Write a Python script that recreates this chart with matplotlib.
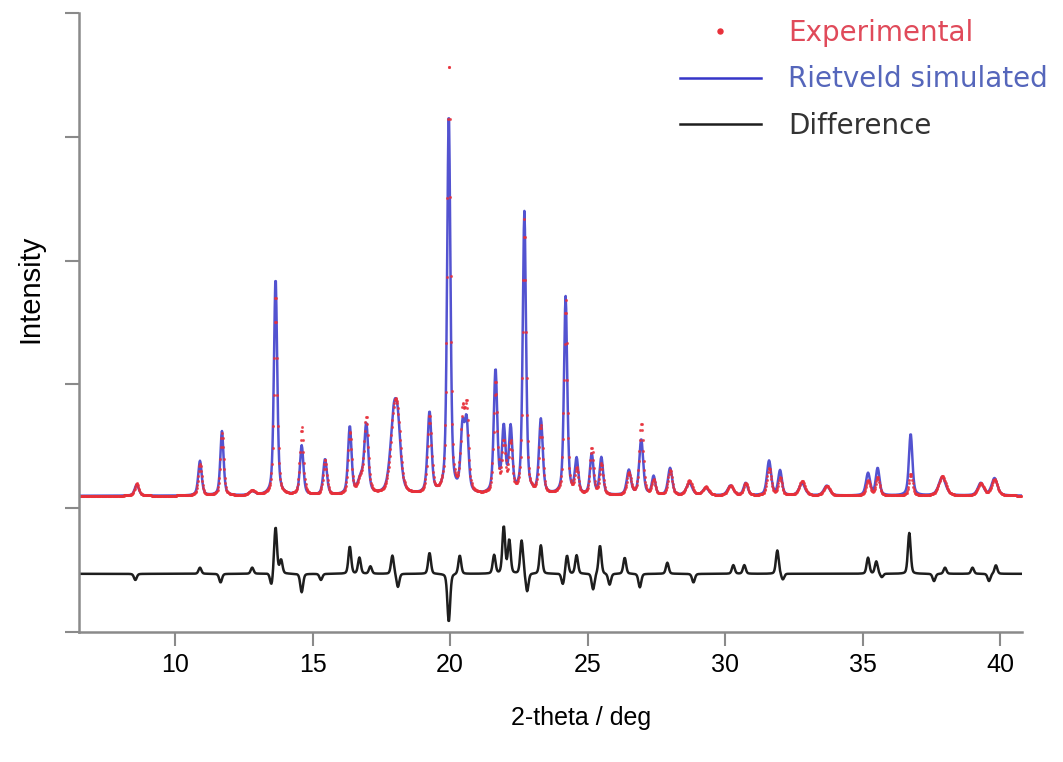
import numpy as np
import matplotlib
matplotlib.use("Agg")
import matplotlib.pyplot as plt

# ---------------------------------------------------------------------
# Peak table (2-theta, height above background)
# ---------------------------------------------------------------------
peak_pos = [8.6, 10.9, 11.7, 12.8, 13.65, 14.6, 15.45, 16.35, 16.75, 16.95,
            17.95, 18.1, 19.25, 19.95, 20.45, 20.6, 21.65, 21.95, 22.2, 22.7,
            23.3, 24.2, 24.6, 25.15, 25.5, 26.5, 26.95, 27.4, 28.0, 28.7,
            29.3, 30.2, 30.75, 31.6, 32.0, 32.8, 33.7, 35.2, 35.55, 36.75,
            37.9, 39.3, 39.8]
peak_fwhm = [0.18, 0.15, 0.14, 0.25, 0.14, 0.15, 0.16, 0.15, 0.25, 0.17,
             0.3, 0.25, 0.17, 0.14, 0.16, 0.16, 0.15, 0.15, 0.15, 0.14,
             0.16, 0.14, 0.15, 0.15, 0.15, 0.18, 0.17, 0.15, 0.18, 0.25,
             0.25, 0.25, 0.18, 0.18, 0.16, 0.25, 0.25, 0.18, 0.16, 0.15,
             0.3, 0.25, 0.25]
calc_height = [0.09, 0.28, 0.52, 0.03, 1.76, 0.40, 0.29, 0.55, 0.12, 0.55,
               0.58, 0.40, 0.66, 3.08, 0.50, 0.55, 1.0, 0.52, 0.52, 2.28,
               0.60, 1.60, 0.28, 0.33, 0.30, 0.20, 0.45, 0.15, 0.22, 0.10,
               0.06, 0.08, 0.10, 0.28, 0.20, 0.10, 0.08, 0.18, 0.22, 0.50,
               0.15, 0.10, 0.14]
exp_height = [0.10, 0.25, 0.50, 0.04, 1.62, 0.55, 0.28, 0.50, 0.12, 0.60,
              0.56, 0.42, 0.62, 3.50, 0.60, 0.65, 0.90, 0.40, 0.40, 2.22,
              0.55, 1.57, 0.20, 0.38, 0.25, 0.18, 0.58, 0.12, 0.20, 0.12,
              0.07, 0.08, 0.10, 0.22, 0.14, 0.12, 0.08, 0.12, 0.15, 0.18,
              0.16, 0.10, 0.13]
background = 1.10

# difference curve features (2-theta, signed amplitude)
diff_pos = [8.55, 10.9, 11.65, 12.8, 13.5, 13.65, 13.85, 14.6, 15.3, 16.35,
            16.7, 17.1, 17.9, 18.1, 19.25, 19.95, 20.35, 21.6, 21.95, 22.15,
            22.6, 22.8, 23.3, 24.1, 24.25, 24.6, 25.2, 25.45, 25.8, 26.35,
            26.9, 27.9, 28.85, 30.3, 30.7, 31.9, 32.1, 35.2, 35.5, 35.7,
            36.7, 37.6, 38.0, 39.0, 39.6, 39.85]
diff_amp = [-0.05, 0.05, -0.07, 0.05, -0.10, 0.38, 0.11, -0.15, -0.05, 0.22,
            0.13, 0.06, 0.15, -0.11, 0.17, -0.39, 0.15, 0.15, 0.38, 0.27,
            0.27, -0.15, 0.23, -0.09, 0.15, 0.15, -0.13, 0.23, -0.09, 0.13,
            -0.11, 0.09, -0.07, 0.07, 0.07, 0.19, -0.05, 0.13, 0.10, -0.03,
            0.33, -0.06, 0.05, 0.05, -0.06, 0.07]
diff_offset = 0.47

x_min, x_max = 6.5, 40.8
two_theta = np.arange(x_min, x_max, 0.02)


def pseudo_voigt(x, pos, h, w, eta=0.5):
    lor = 1.0 / (1.0 + ((x - pos) / (w / 2)) ** 2)
    gau = np.exp(-np.log(2) * ((x - pos) / (w / 2)) ** 2)
    return h * (eta * lor + (1 - eta) * gau)


def profile(heights):
    y = np.full_like(two_theta, background)
    for p, h, w in zip(peak_pos, heights, peak_fwhm):
        y += pseudo_voigt(two_theta, p, h, w)
    return y


calc = profile(calc_height)
exp = profile(exp_height)
diff = np.full_like(two_theta, diff_offset)
for p, a in zip(diff_pos, diff_amp):
    diff += pseudo_voigt(two_theta, p, a, 0.12, eta=0.3)

plt.rcParams["font.family"] = ["Liberation Sans", "DejaVu Sans"]

fig = plt.figure(figsize=(10.63, 7.62), dpi=100)
ax = fig.add_axes([79 / 1063, 130 / 762, 943 / 1063, 619 / 762])

h_calc, = ax.plot(two_theta, calc, color="#3535c8", lw=1.8, alpha=0.85,
                  label="Rietveld simulated")
h_exp, = ax.plot(two_theta, exp, ls="none", marker=".", ms=2.4,
                 color="#e8303a", alpha=0.7, label="Experimental")
h_diff, = ax.plot(two_theta, diff, color="#1e1e1e", lw=1.8,
                  label="Difference")

ax.set_xlim(x_min, x_max)
ax.set_ylim(0, 5)
ax.set_xticks([10, 15, 20, 25, 30, 35, 40])
ax.set_yticks([0, 1, 2, 3, 4, 5])
ax.set_yticklabels([])
ax.tick_params(axis="both", direction="out", length=10, width=1.5,
               color="#8a8a8a", labelsize=18, pad=5)

for side in ("top", "right"):
    ax.spines[side].set_visible(False)
for side in ("left", "bottom"):
    ax.spines[side].set_color("#8a8a8a")
    ax.spines[side].set_linewidth(1.8)

ax.set_xlabel("2-theta / deg", fontsize=18, va="center")
ax.xaxis.set_label_coords(0.532, -0.139)
ax.set_ylabel("Intensity", fontsize=21, va="center")
ax.yaxis.set_label_coords(-0.052, 0.554)

leg = ax.legend([h_exp, h_calc, h_diff],
                ["Experimental", "Rietveld simulated", "Difference"],
                loc="upper left", bbox_to_anchor=(680 / 1063, 1 - 19 / 762),
                bbox_transform=fig.transFigure, frameon=False,
                prop={"family": "DejaVu Sans", "size": 20},
                labelcolor=["#e04a5a", "#5566bb", "#333333"],
                handlelength=2.9, handletextpad=1.0, labelspacing=0.66,
                borderpad=0, borderaxespad=0, markerscale=3)
for lh in leg.legend_handles:
    lh.set_alpha(1)

fig.savefig("out.png", dpi=100)
